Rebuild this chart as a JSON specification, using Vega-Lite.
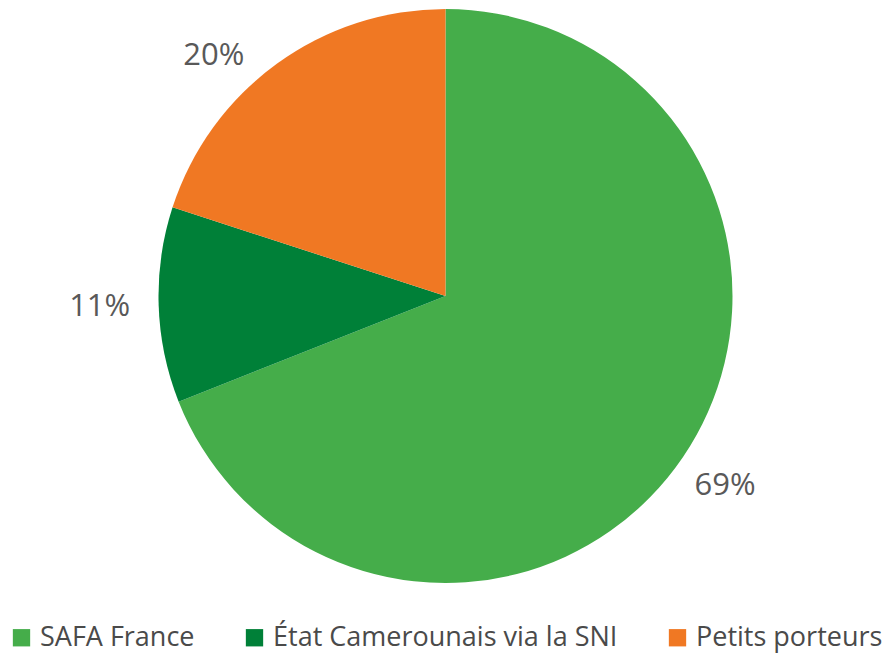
{
  "$schema": "https://vega.github.io/schema/vega-lite/v6.json",
  "width": 891,
  "height": 592,
  "padding": {"left": 0, "top": 0, "right": 0, "bottom": 61},
  "autosize": {"type": "none"},
  "background": "white",
  "data": {"values": [
    {"category": "SAFA France", "value": 69, "label": "69%", "ord": 1},
    {"category": "État Camerounais via la SNI", "value": 11, "label": "11%", "ord": 2},
    {"category": "Petits porteurs", "value": 20, "label": "20%", "ord": 3}
  ]},
  "encoding": {
    "theta": {"field": "value", "type": "quantitative", "stack": true},
    "order": {"field": "ord", "type": "quantitative"}
  },
  "layer": [
    {
      "mark": {"type": "arc", "outerRadius": 287},
      "encoding": {
        "color": {
          "field": "category", "type": "nominal",
          "scale": {"domain": ["SAFA France", "État Camerounais via la SNI", "Petits porteurs"], "range": ["#45AD4A", "#008038", "#F07823"]},
          "legend": {
            "title": null, "orient": "none", "direction": "horizontal",
            "legendX": 8, "legendY": 624,
            "symbolType": "square", "symbolSize": 300, "symbolStrokeWidth": 0,
            "labelFont": "Open Sans", "labelFontSize": 27, "labelColor": "#4a4a4a",
            "columnPadding": 46, "symbolOffset": 0, "labelOffset": 5, "labelLimit": 500
          }
        }
      }
    },
    {
      "mark": {"type": "text", "radius": 338, "font": "Open Sans", "fontSize": 31, "color": "#595959"},
      "encoding": {"text": {"condition": {"test": "datum.ord == 1", "field": "label"}, "value": ""}}
    },
    {
      "mark": {"type": "text", "radius": 338, "dx": -8, "font": "Open Sans", "fontSize": 31, "color": "#595959"},
      "encoding": {"text": {"condition": {"test": "datum.ord == 2", "field": "label"}, "value": ""}}
    },
    {
      "mark": {"type": "text", "radius": 338, "dx": -33, "dy": 33, "font": "Open Sans", "fontSize": 31, "color": "#595959"},
      "encoding": {"text": {"condition": {"test": "datum.ord == 3", "field": "label"}, "value": ""}}
    }
  ]
}
